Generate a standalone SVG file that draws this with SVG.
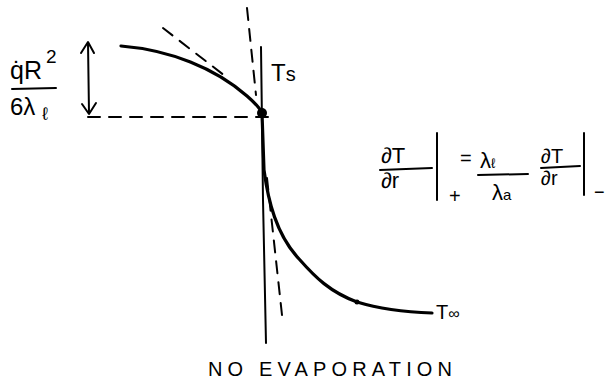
<svg xmlns="http://www.w3.org/2000/svg" width="609" height="385" viewBox="0 0 609 385">
<defs>
<style>
.ln{fill:none;stroke:#000;stroke-linecap:round;stroke-linejoin:round}
.thk{stroke-width:3.2}
.thn{stroke-width:2}
.dsh{stroke-width:2;stroke-dasharray:12 9}
.t{font-family:"Liberation Sans",Arial,sans-serif;fill:#000}
</style>
</defs>
<rect width="609" height="385" fill="#fff"/>
<g id="axis">
<path class="ln thn" d="M261,47 L263,200 L266,343"/>
<path class="ln dsh" d="M247,8 L256,95"/>
</g>
<g id="profile">
<path class="ln thk" d="M121,46 C170,50 215,68 247,96 C255,103 260,108 262,113"/>
<circle cx="262" cy="113" r="5" fill="#000"/>
<path class="ln thk" d="M262,113 L264,170 C268,200 276,235 300,260 C315,277 330,292 357,302 C380,309 405,312 432,313"/>
<circle cx="357" cy="302" r="2.5" fill="#000"/>
</g>
<g id="connectors">
<path class="ln dsh" d="M163,28 L225,76"/>
<path class="ln dsh" d="M88,117 L274,117"/>
<path class="ln dsh" d="M282,315 L267,178"/>
<path class="ln thn" d="M88,43 L89,113"/>
<path class="ln thn" d="M81,53 L88,42 L94,53"/>
<path class="ln thn" d="M82,104 L89,114 L96,103"/>
</g>
<g id="label-heat">
<text class="t" x="10" y="79" font-size="25">q̇R</text>
<text class="t" x="46" y="63" font-size="19">2</text>
<path class="ln thn" d="M12,89 L56,88"/>
<text class="t" x="10" y="115" font-size="24">6λ</text>
<text class="t" x="42" y="120" font-size="18">ℓ</text>
</g>
<g id="label-Ts">
<text class="t" x="271" y="81" font-size="24">T<tspan font-size="20">s</tspan></text>
</g>
<g id="label-Tinf">
<text class="t" x="436" y="319" font-size="20">T<tspan font-size="16">∞</tspan></text>
</g>
<g id="equation">
<text class="t" x="381" y="163" font-size="22">∂T</text>
<path class="ln thn" d="M380,170 L432,168"/>
<text class="t" x="381" y="188" font-size="22">∂r</text>
<path class="ln thn" d="M437,133 L437,200"/>
<text class="t" x="449" y="203" font-size="20">+</text>
<text class="t" x="460" y="165" font-size="20">=</text>
<text class="t" x="480" y="168" font-size="22">λ<tspan font-size="14">ℓ</tspan></text>
<path class="ln thn" d="M478,175 L528,174"/>
<text class="t" x="492" y="200" font-size="22">λ<tspan font-size="15">a</tspan></text>
<text class="t" x="541" y="163" font-size="20">∂T</text>
<path class="ln thn" d="M541,168 L580,166"/>
<text class="t" x="541" y="185" font-size="20">∂r</text>
<path class="ln thn" d="M584,133 L584,195"/>
<text class="t" x="594" y="198" font-size="18">−</text>
</g>
<g id="caption">
<text class="t" x="208" y="376" font-size="20" textLength="244" lengthAdjust="spacing">NO EVAPORATION</text>
</g>
</svg>
